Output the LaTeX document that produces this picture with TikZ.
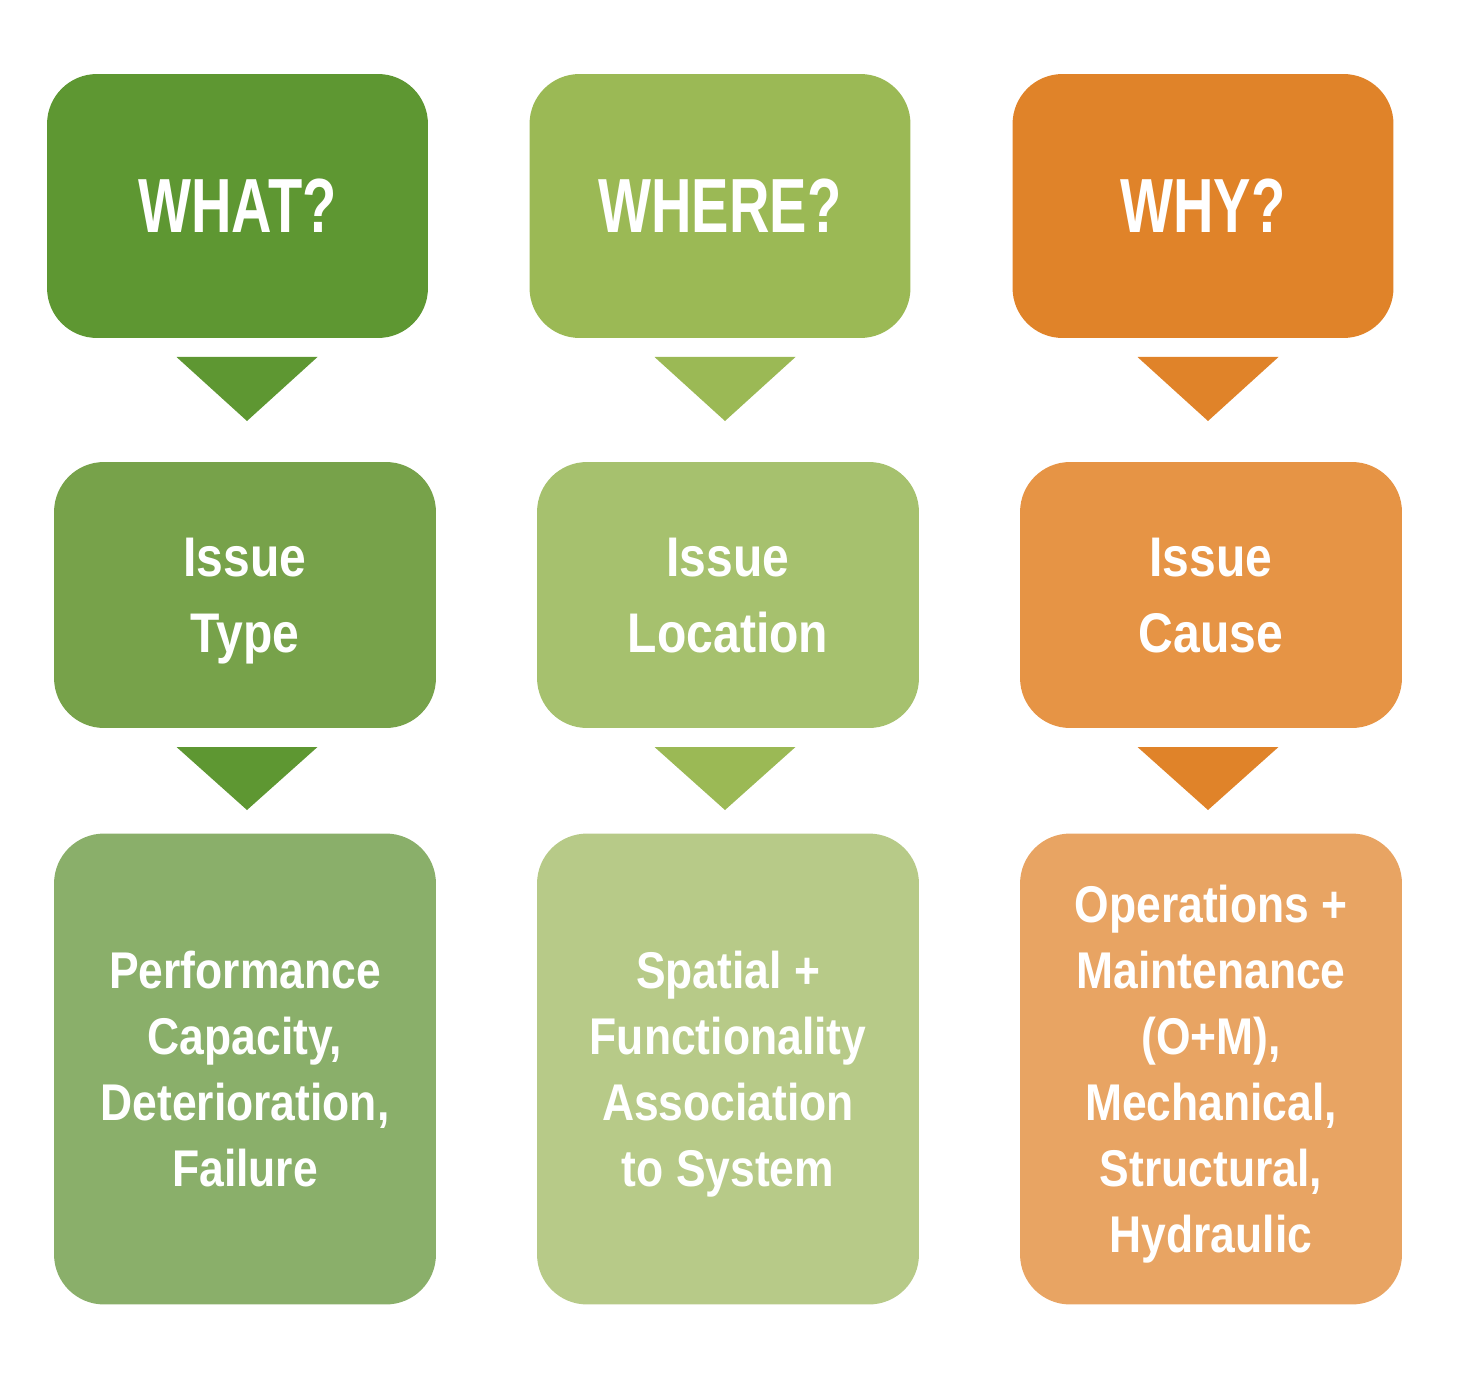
\documentclass[tikz,border=0pt]{standalone}
\usepackage{fontspec}
\newfontfamily\headfont{Liberation Sans}[FakeStretch=0.73]
\newfontfamily\cardfont{Liberation Sans}[FakeStretch=0.86]

\definecolor{whatA}{HTML}{5E9732}
\definecolor{whatB}{HTML}{77A24A}
\definecolor{whatC}{HTML}{8AAF6A}
\definecolor{whereA}{HTML}{9BB955}
\definecolor{whereB}{HTML}{A6C16E}
\definecolor{whereC}{HTML}{B7CA88}
\definecolor{whyA}{HTML}{E08329}
\definecolor{whyB}{HTML}{E69445}
\definecolor{whyC}{HTML}{E8A463}

\tikzset{
  card/.style={rectangle,rounded corners=1cm,text=white,align=center,
    inner sep=0pt,minimum width=7.64cm,text depth=0pt},
  question/.style={card,minimum width=7.62cm,minimum height=5.28cm,
    font=\headfont\bfseries\fontsize{43.7}{50}\selectfont},
  issue/.style={card,minimum height=5.32cm,
    font=\cardfont\bfseries\fontsize{31.8}{43.2}\selectfont},
  detail/.style={card,minimum height=9.42cm,
    font=\cardfont\bfseries\fontsize{29.4}{37.6}\selectfont},
}

\begin{document}
\begin{tikzpicture}[x=0.02cm,y=-0.02cm]
\useasboundingbox (0,0) rectangle (1460,1378);

% top row
\node[question,fill=whatA](what) at (237.5,206) {WHAT?};
\node[question,fill=whereA](where) at (720,206) {WHERE?};
\node[question,fill=whyA](why) at (1203,206) {WHY?};

% middle row
\node[issue,fill=whatB](type) at (245,595) {Issue\\Type};
\node[issue,fill=whereB](location) at (728,595) {Issue\\Location};
\node[issue,fill=whyB](cause) at (1211,595) {Issue\\Cause};

% bottom row
\node[detail,fill=whatC](performance) at (245,1069)
    {Performance\\Capacity,\\Deterioration,\\Failure};
\node[detail,fill=whereC](spatial) at (728,1069)
    {Spatial +\\Functionality\\Association\\to System};
\node[detail,fill=whyC](operations) at (1211,1069)
    {Operations +\\Maintenance\\(O+M),\\Mechanical,\\Structural,\\Hydraulic};

% pointers
\foreach \x/\c in {247/whatA,725/whereA,1208/whyA}{
  \fill[\c] (\x-70.5,357) -- (\x+70.5,357) -- (\x,421) -- cycle;
  \fill[\c] (\x-70.5,747) -- (\x+70.5,747) -- (\x,810) -- cycle;
}

\end{tikzpicture}
\end{document}
